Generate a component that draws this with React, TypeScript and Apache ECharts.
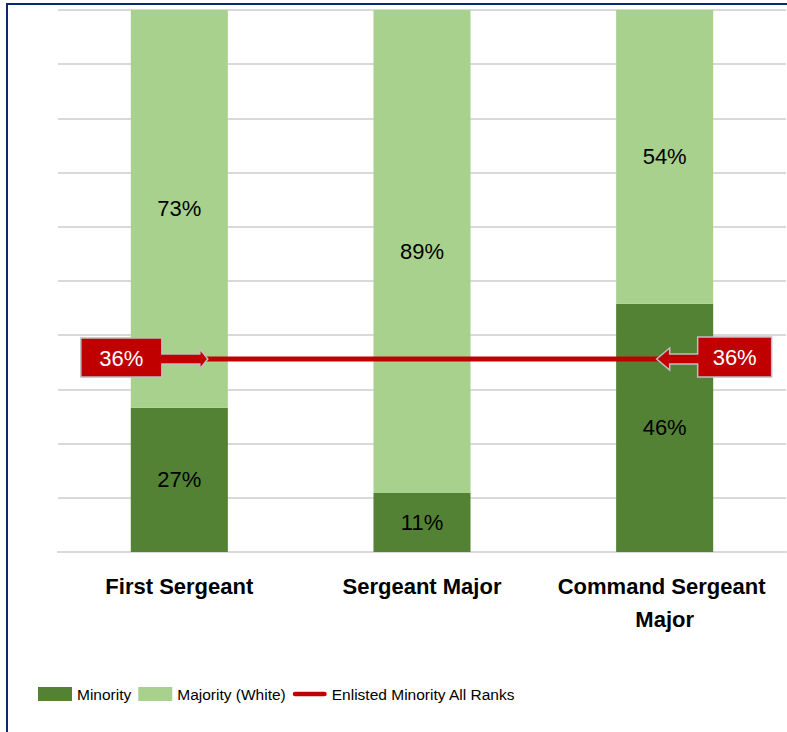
import React, { useEffect, useRef } from "react";
import * as echarts from "echarts";

const categories = ["First Sergeant", "Sergeant Major", "Command Sergeant Major"];
const minorityValues = [26.6, 10.9, 45.8];
const majorityValues = [73.4, 89.1, 54.2];
const allRanksValues = [35.6, 35.6, 35.6];
const seriesNames = ["Minority", "Majority (White)", "Enlisted Minority All Ranks"];

const DARK_GREEN = "#548235";
const LIGHT_GREEN = "#A9D18E";
const RED = "#C00000";
const FONT = "'Liberation Sans', Arial, sans-serif";

const pct = (v: number) => Math.round(v) + "%";

export default function App() {
  const ref = useRef<HTMLDivElement>(null);

  useEffect(() => {
    if (!ref.current) return;
    const chart = echarts.init(ref.current, null, { renderer: "svg" });
    const barLabel = {
      show: true,
      position: "inside",
      formatter: (p: any) => pct(p.value),
      color: "#000",
      fontFamily: FONT,
      fontSize: 22,
    };
    const option: any = {
      animation: false,
      backgroundColor: "#ffffff",
      grid: { left: 58, right: 1, top: 10, bottom: 180, containLabel: false },
      legend: {
        left: 38,
        top: 686,
        padding: 0,
        itemWidth: 34,
        itemHeight: 14,
        itemGap: 7,
        textStyle: { fontFamily: FONT, fontSize: 15.5, color: "#000" },
        data: [
          { name: seriesNames[0], icon: "rect" },
          { name: seriesNames[1], icon: "rect" },
          {
            name: seriesNames[2],
            icon: "path://M0,0 M36,14 M2.5,4.5 L33.5,4.5 A2.5,2.5 0 0 1 33.5,9.5 L2.5,9.5 A2.5,2.5 0 0 1 2.5,4.5 Z",
            itemStyle: { color: RED },
          },
        ],
      },
      xAxis: {
        type: "category",
        data: categories,
        axisLine: { show: true, lineStyle: { color: "#D9D9D9", width: 2 } },
        axisTick: { show: false },
        axisLabel: {
          margin: 18,
          fontFamily: FONT,
          fontWeight: "bold",
          fontSize: 22,
          color: "#000",
          lineHeight: 33,
          width: 236,
          overflow: "break",
          interval: 0,
        },
      },
      yAxis: {
        type: "value",
        min: 0,
        max: 100,
        interval: 10,
        axisLabel: { show: false },
        axisLine: { show: false },
        axisTick: { show: false },
        splitLine: { lineStyle: { color: "#D9D9D9", width: 2 } },
      },
      series: [
        {
          name: seriesNames[0],
          type: "bar",
          stack: "total",
          barWidth: "40%",
          data: minorityValues,
          itemStyle: { color: DARK_GREEN },
          label: barLabel,
        },
        {
          name: seriesNames[1],
          type: "bar",
          stack: "total",
          barWidth: "40%",
          data: majorityValues,
          itemStyle: { color: LIGHT_GREEN },
          label: barLabel,
        },
        {
          name: seriesNames[2],
          type: "line",
          data: allRanksValues,
          symbol: "none",
          z: 5,
          itemStyle: { color: RED },
          lineStyle: { color: RED, width: 5 },
        },
      ],
    };
    chart.setOption(option);

    // callouts anchored to the line's first and last points
    const p0 = chart.convertToPixel({ xAxisIndex: 0, yAxisIndex: 0 }, [0, allRanksValues[0]]);
    const p2 = chart.convertToPixel({ xAxisIndex: 0, yAxisIndex: 0 }, [2, allRanksValues[2]]);
    const y = p0[1];
    const lx = p0[0];
    const rx = p2[0];
    const calloutStyle = { fill: RED, stroke: "#BFBFBF", lineWidth: 1.5 };

    const leftPts = [
      [lx - 98.5, y - 21],
      [lx - 17.5, y - 21],
      [lx - 17.5, y - 5],
      [lx + 20.5, y - 5],
      [lx + 20.5, y - 10],
      [lx + 28.5, y],
      [lx + 20.5, y + 10],
      [lx + 20.5, y + 5],
      [lx - 17.5, y + 5],
      [lx - 17.5, y + 18],
      [lx - 98.5, y + 18],
    ];
    const rightPts = [
      [rx + 107, y - 22],
      [rx + 33, y - 22],
      [rx + 33, y - 5],
      [rx + 5, y - 5],
      [rx + 5, y - 11],
      [rx - 8, y],
      [rx + 5, y + 11],
      [rx + 5, y + 5],
      [rx + 33, y + 5],
      [rx + 33, y + 18],
      [rx + 107, y + 18],
    ];

    chart.setOption({
      graphic: [
        {
          type: "rect",
          shape: { x: 7, y: 4, width: 1000, height: 1000 },
          style: { fill: "none", stroke: "#0B2A6B", lineWidth: 2 },
          z: 100,
          silent: true,
        },
        { type: "polygon", shape: { points: leftPts }, style: calloutStyle, z: 100 },
        {
          type: "text",
          x: lx - 58,
          y: y - 1,
          style: {
            text: pct(allRanksValues[0]),
            fill: "#fff",
            font: `22px ${FONT}`,
            align: "center",
            verticalAlign: "middle",
          },
          z: 101,
        },
        { type: "polygon", shape: { points: rightPts }, style: calloutStyle, z: 100 },
        {
          type: "text",
          x: rx + 70,
          y: y - 2,
          style: {
            text: pct(allRanksValues[2]),
            fill: "#fff",
            font: `22px ${FONT}`,
            align: "center",
            verticalAlign: "middle",
          },
          z: 101,
        },
      ],
    });

    return () => chart.dispose();
  }, []);

  return (
    <div
      ref={ref}
      style={{ position: "fixed", left: 0, top: 0, width: 787, height: 732 }}
    />
  );
}
